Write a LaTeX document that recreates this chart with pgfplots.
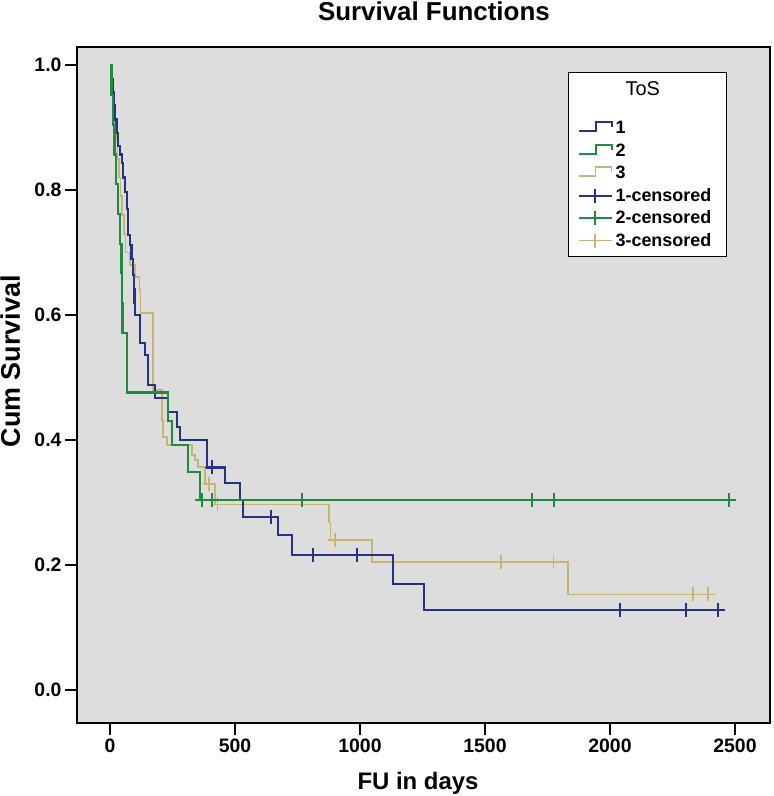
\documentclass[border=0pt]{standalone}
\usepackage{pgfplots}
\pgfplotsset{compat=1.18}
\usepackage{fontspec}
\setmainfont{Liberation Sans}
\definecolor{c1}{RGB}{38,50,130}
\definecolor{c2}{RGB}{30,140,60}
\definecolor{c3}{RGB}{200,180,115}
\definecolor{bg}{RGB}{221,221,221}
\newcommand{\lstr}{\rule[-4bp]{0pt}{17bp}}
\begin{document}
\begin{tikzpicture}
\begin{axis}[
  scale only axis, width=693bp, height=676bp,
  xmin=-132, xmax=2640, ymin=-0.0528, ymax=1.0288,
  axis background/.style={fill=bg},
  axis line style={black, line width=1.5bp},
  xtick={0,500,1000,1500,2000,2500},
  ytick={0,0.2,0.4,0.6,0.8,1.0},
  xtick pos=bottom, ytick pos=left, tick align=outside,
  major tick length=12bp,
  tick style={black, line width=1.5bp},
  /pgf/number format/assume math mode=true,
  ticklabel style={font=\bfseries\fontsize{19.5}{19.5}\selectfont},
  xticklabel style={/pgf/number format/1000 sep={}},
  yticklabel style={/pgf/number format/fixed, /pgf/number format/fixed zerofill, /pgf/number format/precision=1},
  title={Survival Functions},
  title style={font=\bfseries\fontsize{26}{26}\selectfont, at={(axis description cs:0.515,1)}, anchor=base, yshift=21bp},
  xlabel={FU in days},
  xlabel style={font=\bfseries\fontsize{24}{24}\selectfont, at={(axis description cs:0.492,0)}, anchor=base, yshift=-66bp},
  ylabel={Cum Survival},
  ylabel style={font=\bfseries\fontsize{27}{27}\selectfont, at={(axis description cs:-0.0823,0.535)}, anchor=base},
  legend style={at={(axis description cs:0.7085,0.963)}, anchor=north west,
    draw=black, line width=1.2bp, fill=white,
    font=\bfseries\fontsize{18}{18}\selectfont,
    inner xsep=9bp, inner ysep=5bp, row sep=3.5bp, column sep=2bp,
    nodes={inner sep=1bp, text depth={}}},
  legend cell align=left,
]
\addlegendimage{empty legend}
\addlegendentry{\hspace*{10bp}\mdseries\fontsize{20}{20}\selectfont ToS\rule[-19.5bp]{0pt}{36.5bp}}
\addlegendimage{legend image code/.code={\draw[c1,line width=2bp] (0bp,-2bp)--(17bp,-2bp)--(17bp,7bp)--(33bp,7bp)--(33bp,2bp);}}
\addlegendentry{1\lstr}
\addlegendimage{legend image code/.code={\draw[c2,line width=2bp] (0bp,-2bp)--(17bp,-2bp)--(17bp,7bp)--(33bp,7bp)--(33bp,2bp);}}
\addlegendentry{2\lstr}
\addlegendimage{legend image code/.code={\draw[c3,line width=1.5bp] (0bp,-2bp)--(17bp,-2bp)--(17bp,7bp)--(33bp,7bp)--(33bp,2bp);}}
\addlegendentry{3\lstr}
\addlegendimage{legend image code/.code={\draw[c1,line width=2bp] (0bp,1bp)--(33bp,1bp); \draw[c1,line width=2bp] (16.5bp,-6bp)--(16.5bp,8bp);}}
\addlegendentry{1-censored\lstr\hspace*{5bp}}
\addlegendimage{legend image code/.code={\draw[c2,line width=2bp] (0bp,1bp)--(33bp,1bp); \draw[c2,line width=2bp] (16.5bp,-6bp)--(16.5bp,8bp);}}
\addlegendentry{2-censored\lstr\hspace*{5bp}}
\addlegendimage{legend image code/.code={\draw[c3,line width=1.5bp] (0bp,1bp)--(33bp,1bp); \draw[c3,line width=1.5bp] (16.5bp,-6bp)--(16.5bp,8bp);}}
\addlegendentry{3-censored\lstr\hspace*{5bp}}

% group 3 (tan)
\addplot[const plot, c3, line width=1.6bp, forget plot] coordinates {
(0,1)(6,0.97)(12,0.94)(18,0.91)(24,0.88)(30,0.85)(36,0.82)(42,0.79)(48,0.76)(55,0.73)(62,0.70)(80,0.68)(100,0.661)(118,0.64)(122,0.603)(173,0.48)(208,0.432)(213,0.405)(227,0.392)(328,0.376)(340,0.368)(352,0.357)(380,0.33)(420,0.297)(876,0.268)(882,0.24)(1047,0.205)(1833,0.153)(2400,0.153)};
% group 1 (blue)
\addplot[const plot, c1, line width=2.3bp, forget plot] coordinates {
(0,1.0)(5,0.978)(10,0.957)(15,0.935)(20,0.913)(26,0.891)(32,0.87)(40,0.857)(47,0.843)(53,0.82)(60,0.797)(67,0.77)(73,0.728)(80,0.712)(86,0.69)(93,0.664)(96,0.642)(98,0.62)(100,0.6)(120,0.555)(140,0.536)(153,0.488)(180,0.467)(233,0.445)(267,0.421)(280,0.40)(387,0.356)(460,0.331)(520,0.304)(533,0.277)(673,0.248)(727,0.216)(1131,0.17)(1256,0.128)(2432,0.128)};
% group 2 (green)
\addplot[const plot, c2, line width=2.3bp, forget plot] coordinates {
(0,1)(6,0.952)(12,0.905)(18,0.857)(24,0.81)(32,0.762)(40,0.714)(46,0.667)(48,0.619)(50,0.571)(67,0.476)(232,0.43)(247,0.392)(312,0.349)(360,0.304)(2480,0.304)};
% censored
\addplot[only marks, mark=+, mark size=7bp, c3, mark options={line width=1.5bp}, forget plot] coordinates {
(395,0.33)(430,0.297)(900,0.24)(1563,0.205)(1773,0.205)(2332,0.153)(2392,0.153)};
\addplot[only marks, mark=+, mark size=7bp, c1, mark options={line width=1.8bp}, forget plot] coordinates {
(407,0.356)(643,0.277)(811,0.216)(989,0.216)(2040,0.128)(2304,0.128)(2432,0.128)};
\addplot[only marks, mark=+, mark size=7bp, c2, mark options={line width=1.8bp}, forget plot] coordinates {
(367,0.304)(407,0.304)(769,0.304)(1687,0.304)(1777,0.304)(2475,0.304)};
\end{axis}
\pgfresetboundingbox
\path ([shift={(-77bp,-73bp)}]current axis.south west) rectangle ([shift={(4bp,47bp)}]current axis.north east);
\end{tikzpicture}
\end{document}
